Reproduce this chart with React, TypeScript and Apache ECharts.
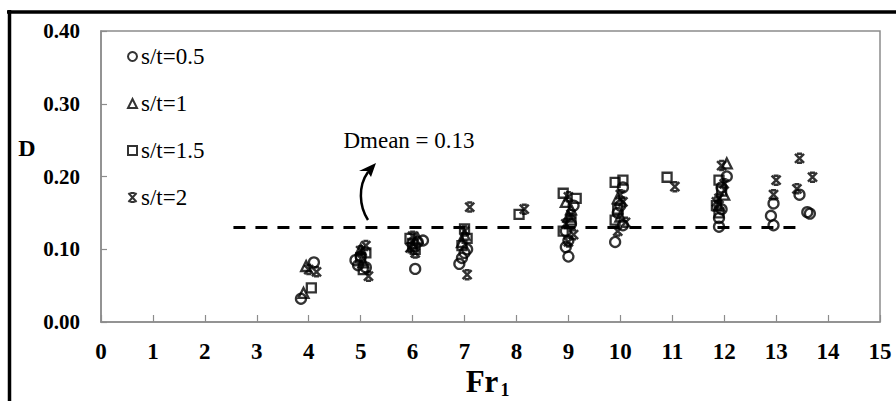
import React, { useEffect, useRef } from "react";
import * as echarts from "echarts";

// s/t = 0.5 (circles)
const s05X = [3.85, 4.1, 4.95, 5.0, 5.1, 4.9, 6.05, 6.1, 6.2, 6.9, 7.0, 6.95, 7.05, 9.0, 8.95, 9.0, 8.95, 9.05, 9.1, 9.9, 10.05, 10.05, 9.95, 10.0, 11.9, 11.9, 11.95, 12.05, 11.95, 12.9, 12.95, 12.95, 13.45, 13.6, 13.65];
const s05Y = [0.032, 0.082, 0.078, 0.09, 0.075, 0.085, 0.073, 0.11, 0.112, 0.08, 0.095, 0.088, 0.1, 0.09, 0.103, 0.112, 0.125, 0.135, 0.16, 0.11, 0.133, 0.185, 0.15, 0.16, 0.131, 0.143, 0.155, 0.2, 0.185, 0.146, 0.133, 0.163, 0.175, 0.151, 0.149];

// s/t = 1 (triangles)
const s1X = [3.95, 3.9, 5.0, 5.05, 6.0, 6.1, 7.0, 6.95, 9.0, 9.05, 8.95, 9.95, 10.0, 12.05, 11.9, 12.0];
const s1Y = [0.077, 0.04, 0.1, 0.082, 0.105, 0.115, 0.12, 0.11, 0.145, 0.155, 0.165, 0.17, 0.145, 0.218, 0.16, 0.175];

// s/t = 1.5 (squares)
const s15X = [4.05, 5.1, 5.0, 5.05, 5.95, 6.0, 6.05, 7.0, 7.05, 6.95, 8.05, 8.9, 9.15, 8.9, 9.05, 9.9, 10.05, 9.9, 9.95, 10.9, 11.9, 11.95, 11.85, 11.9];
const s15Y = [0.047, 0.095, 0.088, 0.072, 0.115, 0.108, 0.1, 0.128, 0.115, 0.105, 0.148, 0.177, 0.17, 0.125, 0.14, 0.192, 0.195, 0.14, 0.155, 0.199, 0.195, 0.18, 0.16, 0.15];

// s/t = 2 (stars)
const s2X = [4.15, 4.0, 5.1, 5.15, 5.0, 6.0, 6.05, 5.95, 7.1, 7.05, 7.0, 8.15, 9.0, 9.05, 8.95, 9.1, 9.0, 10.0, 9.95, 10.05, 10.1, 11.05, 11.95, 11.85, 12.0, 11.9, 13.0, 12.95, 13.45, 13.7, 13.4];
const s2Y = [0.069, 0.072, 0.105, 0.063, 0.098, 0.118, 0.095, 0.102, 0.158, 0.065, 0.125, 0.155, 0.172, 0.148, 0.135, 0.12, 0.11, 0.175, 0.125, 0.165, 0.137, 0.186, 0.215, 0.165, 0.19, 0.17, 0.195, 0.175, 0.225, 0.199, 0.183];

// Dmean line
const dmeanX = [2.55, 13.4];
const dmeanValue = 0.13;

const seriesNames = ["s/t=0.5", "s/t=1", "s/t=1.5", "s/t=2"];
const xTicks = [0, 15, 1];
const yTicks = [0, 0.4, 0.1];

const starPath = "path://M2.5,0 L7.5,0 M2.5,10 L7.5,10 M0.5,0 L9.5,10 M9.5,0 L0.5,10";

const zip = (xs: number[], ys: number[]) => xs.map((x, i) => [x, ys[i]]);

export default function App() {
  const ref = useRef<HTMLDivElement>(null);
  useEffect(() => {
    if (!ref.current) return;
    const chart = echarts.init(ref.current, null, { renderer: "svg" });
    const serif = "Liberation Serif";
    const mk = (name: string, data: number[][], symbol: string, size: number, bw = 2.3) => ({
      name,
      type: "scatter",
      data,
      symbol,
      symbolSize: size,
      itemStyle: { color: "transparent", borderColor: "#000", borderWidth: bw },
      z: 3,
    });
    chart.setOption({
      animation: false,
      backgroundColor: "#fff",
      textStyle: { fontFamily: serif },
      grid: {
        left: 101,
        top: 31,
        right: 16,
        bottom: 79,
        show: true,
        borderColor: "#8c8c8c",
        borderWidth: 1.5,
        containLabel: false,
      },
      legend: {
        orient: "vertical",
        left: 127,
        top: 45,
        padding: 0,
        itemGap: 24,
        itemWidth: 9,
        itemHeight: 9,
        data: seriesNames,
        textStyle: { fontFamily: serif, fontSize: 23, color: "#000", padding: [0, 0, 0, -1] },
      },
      xAxis: {
        type: "value",
        min: xTicks[0],
        max: xTicks[1],
        interval: xTicks[2],
        splitLine: { show: false },
        axisLine: { lineStyle: { color: "#8c8c8c", width: 1.5 } },
        axisTick: { inside: true, length: 7, lineStyle: { color: "#8c8c8c", width: 1.2 } },
        axisLabel: {
          margin: 18,
          fontFamily: serif,
          fontWeight: "bold",
          fontSize: 23,
          color: "#000",
        },
      },
      yAxis: {
        type: "value",
        min: yTicks[0],
        max: yTicks[1],
        interval: yTicks[2],
        splitLine: { show: false },
        axisLine: { show: true, lineStyle: { color: "#8c8c8c", width: 1.5 } },
        axisTick: { show: true, inside: true, length: 6, lineStyle: { color: "#8c8c8c", width: 1.2 } },
        axisLabel: {
          margin: 21,
          fontFamily: serif,
          fontWeight: "bold",
          fontSize: 21,
          color: "#000",
          formatter: (v: number) => v.toFixed(2),
        },
      },
      series: [
        {
          name: "Dmean",
          type: "line",
          data: dmeanX.map((x) => [x, dmeanValue]),
          symbol: "none",
          lineStyle: { color: "#000", width: 3, type: [12, 10] },
          z: 2,
        },
        mk(seriesNames[0], zip(s05X, s05Y), "circle", 10),
        mk(seriesNames[1], zip(s1X, s1Y), "triangle", 10),
        mk(seriesNames[2], zip(s15X, s15Y), "rect", 9),
        mk(seriesNames[3], zip(s2X, s2Y), starPath, 9, 2.5),
      ],
      graphic: [
        { type: "line", shape: { x1: 7, y1: 12, x2: 896, y2: 12 }, style: { stroke: "#000", lineWidth: 3.5 } },
        { type: "line", shape: { x1: 9.5, y1: 10, x2: 9.5, y2: 401 }, style: { stroke: "#000", lineWidth: 3.5 } },
        {
          type: "text",
          x: 27,
          y: 148,
          style: { text: "D", fontFamily: serif, fontWeight: "bold", fontSize: 24, fill: "#000", align: "center", verticalAlign: "middle" },
        },
        {
          type: "text",
          x: 482,
          y: 381,
          style: { text: "Fr", fontFamily: serif, fontWeight: "bold", fontSize: 31, fill: "#000", align: "center", verticalAlign: "middle" },
        },
        {
          type: "text",
          x: 505,
          y: 390,
          style: { text: "1", fontFamily: serif, fontWeight: "bold", fontSize: 18, fill: "#000", align: "center", verticalAlign: "middle" },
        },
        {
          type: "text",
          x: 409,
          y: 140,
          style: { text: "Dmean = 0.13", fontFamily: serif, fontSize: 23, fill: "#000", align: "center", verticalAlign: "middle" },
        },
        {
          type: "bezierCurve",
          shape: { x1: 368, y1: 220, cpx1: 359, cpy1: 206, cpx2: 358, cpy2: 186, x2: 368, y2: 172 },
          style: { stroke: "#000", lineWidth: 2.5, fill: "none" },
        },
        {
          type: "polygon",
          shape: { points: [[376, 163], [359, 171], [367, 171], [371, 177]] },
          style: { fill: "#000" },
        },
      ],
    });
    return () => chart.dispose();
  }, []);
  return <div ref={ref} style={{ position: "fixed", left: 0, top: 0, width: 896, height: 401 }} />;
}
